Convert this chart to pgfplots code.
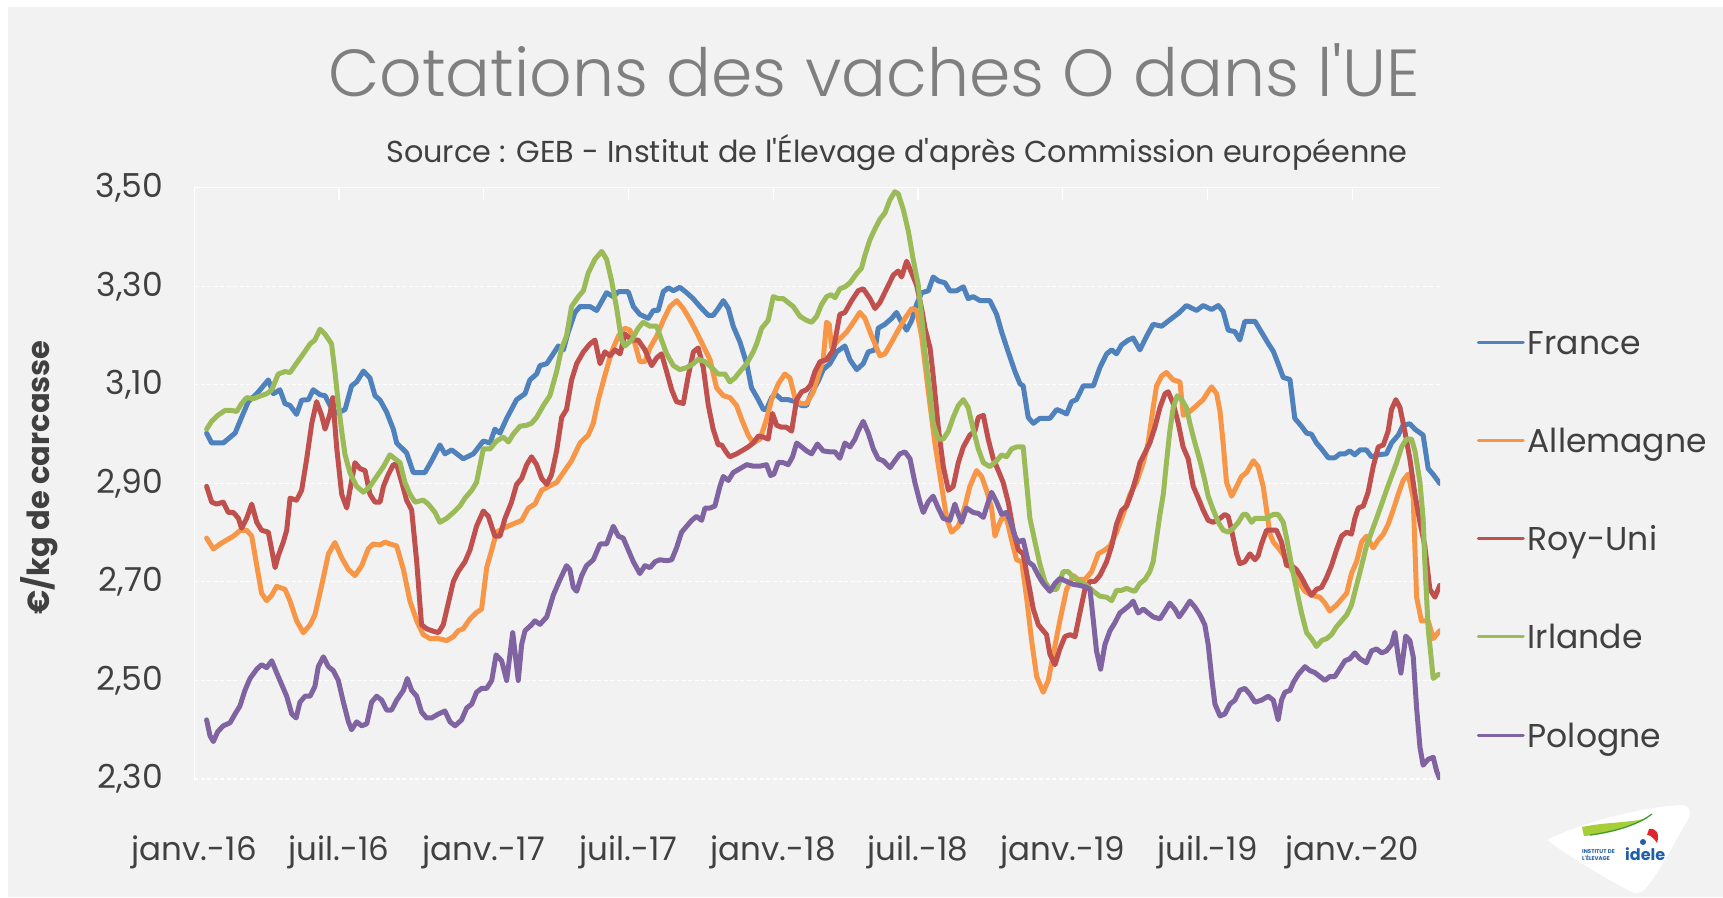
\documentclass[border=0pt]{standalone}
\usepackage{fontspec}
\usepackage{pgfplots}
\pgfplotsset{compat=1.18}
\usepackage{pgfplotstable}
\setmainfont{Poppins}[Ligatures=TeXOff]
\IfFontExistsTF{Poppins Light}{\newfontfamily\titlefont{Poppins Light}[Ligatures=TeXOff]}{\newfontfamily\titlefont{Poppins}[Ligatures=TeXOff]}
\definecolor{cFR}{HTML}{4F81BD}
\definecolor{cDE}{HTML}{F79646}
\definecolor{cUK}{HTML}{C0504D}
\definecolor{cIE}{HTML}{9BBB59}
\definecolor{cPL}{HTML}{8064A2}
\definecolor{bg}{HTML}{F2F2F2}
\definecolor{txt}{HTML}{404040}
\definecolor{ttl}{HTML}{7F7F7F}
\definecolor{logoblue}{HTML}{1F5FAA}
\definecolor{logolime}{HTML}{A6CE39}
\definecolor{logogreen}{HTML}{3A9A3A}
\definecolor{logored}{HTML}{E0262B}

\pgfplotstableread{
m v
0.51 3.002
0.72 2.982
1.20 2.982
1.69 3.002
1.96 3.034
2.24 3.066
2.59 3.082
3.07 3.110
3.28 3.082
3.55 3.090
3.76 3.062
3.97 3.058
4.24 3.040
4.45 3.069
4.73 3.070
4.93 3.090
5.21 3.080
5.42 3.078
5.63 3.058
5.90 3.042
6.25 3.050
6.52 3.098
6.73 3.106
7.01 3.128
7.28 3.114
7.49 3.078
7.70 3.069
7.97 3.045
8.25 3.010
8.39 2.982
8.80 2.962
9.08 2.922
9.56 2.922
9.84 2.946
10.18 2.978
10.39 2.960
10.67 2.968
11.15 2.950
11.57 2.960
11.98 2.986
12.26 2.982
12.46 3.010
12.67 3.002
12.95 3.032
13.36 3.070
13.71 3.082
13.91 3.110
14.19 3.122
14.33 3.139
14.61 3.143
14.88 3.163
15.09 3.179
15.30 3.171
15.50 3.207
15.78 3.247
15.99 3.259
16.40 3.259
16.68 3.251
17.09 3.287
17.37 3.279
17.58 3.289
17.99 3.289
18.20 3.259
18.47 3.243
18.82 3.235
19.03 3.251
19.23 3.251
19.44 3.289
19.65 3.297
19.86 3.291
20.13 3.298
20.41 3.287
20.68 3.275
20.96 3.259
21.31 3.241
21.51 3.241
21.72 3.255
21.93 3.271
22.14 3.255
22.34 3.219
22.62 3.187
22.90 3.143
23.10 3.094
23.38 3.070
23.59 3.050
23.72 3.050
23.93 3.074
24.07 3.082
24.35 3.070
24.62 3.070
24.90 3.066
25.18 3.058
25.38 3.058
25.55 3.080
25.85 3.106
26.07 3.131
26.35 3.143
26.63 3.167
26.97 3.179
27.18 3.151
27.46 3.131
27.73 3.143
27.94 3.167
28.22 3.171
28.35 3.215
28.63 3.223
28.91 3.235
29.11 3.247
29.32 3.227
29.53 3.211
29.74 3.231
29.94 3.263
30.15 3.287
30.43 3.291
30.63 3.319
30.84 3.311
31.12 3.307
31.32 3.291
31.60 3.291
31.88 3.299
32.08 3.275
32.29 3.279
32.57 3.271
32.98 3.271
33.26 3.243
33.47 3.207
33.74 3.167
34.02 3.127
34.23 3.102
34.36 3.098
34.57 3.034
34.78 3.022
35.05 3.032
35.47 3.032
35.75 3.050
35.95 3.046
36.16 3.041
36.37 3.066
36.57 3.070
36.85 3.098
37.27 3.098
37.54 3.135
37.82 3.163
38.03 3.171
38.23 3.163
38.44 3.181
38.72 3.191
38.92 3.195
39.20 3.171
39.48 3.199
39.75 3.223
40.10 3.219
40.44 3.232
40.79 3.245
41.13 3.261
41.55 3.251
41.82 3.261
42.17 3.253
42.45 3.261
42.65 3.249
42.86 3.211
43.14 3.208
43.34 3.191
43.55 3.229
43.97 3.229
44.24 3.207
44.52 3.184
44.73 3.168
44.93 3.143
45.14 3.115
45.42 3.111
45.62 3.032
45.90 3.016
46.11 3.002
46.31 3.000
46.52 2.982
46.73 2.970
47.01 2.952
47.28 2.952
47.49 2.960
47.70 2.960
47.90 2.966
48.11 2.958
48.32 2.968
48.59 2.968
48.80 2.954
49.08 2.958
49.42 2.960
49.63 2.982
49.91 2.998
50.11 3.018
50.39 3.021
50.60 3.010
50.94 2.998
51.15 2.930
51.36 2.918
51.63 2.900
}\tFR

\pgfplotstableread{
m v
0.51 2.789
0.79 2.767
1.07 2.777
1.34 2.785
1.62 2.793
1.89 2.804
2.17 2.805
2.38 2.793
2.59 2.733
2.79 2.677
3.00 2.662
3.21 2.673
3.41 2.691
3.76 2.685
3.97 2.661
4.24 2.621
4.52 2.597
4.80 2.613
5.00 2.633
5.28 2.693
5.56 2.757
5.83 2.780
6.11 2.749
6.39 2.725
6.66 2.713
6.94 2.733
7.21 2.767
7.42 2.777
7.70 2.775
7.91 2.781
8.11 2.777
8.39 2.773
8.67 2.725
8.94 2.661
9.22 2.621
9.49 2.593
9.77 2.585
10.12 2.585
10.46 2.581
10.74 2.589
10.94 2.601
11.15 2.605
11.43 2.625
11.70 2.638
11.91 2.645
12.12 2.729
12.33 2.765
12.53 2.801
12.81 2.809
13.09 2.815
13.57 2.825
13.85 2.850
14.12 2.858
14.40 2.886
14.74 2.895
15.02 2.902
15.30 2.922
15.64 2.946
15.99 2.982
16.33 2.998
16.54 3.022
16.75 3.070
17.02 3.119
17.30 3.167
17.58 3.199
17.85 3.215
18.06 3.211
18.27 3.183
18.47 3.147
18.68 3.147
18.89 3.175
19.17 3.199
19.44 3.231
19.72 3.259
20.00 3.271
20.27 3.255
20.55 3.232
20.82 3.207
21.10 3.179
21.38 3.151
21.65 3.094
21.93 3.078
22.21 3.074
22.48 3.058
22.69 3.030
22.96 2.998
23.17 2.982
23.45 2.990
23.72 3.030
23.93 3.070
24.21 3.102
24.48 3.122
24.69 3.114
24.90 3.074
25.11 3.062
25.38 3.062
25.66 3.086
25.87 3.119
26.07 3.151
26.21 3.227
26.32 3.223
26.42 3.175
26.70 3.191
27.04 3.207
27.32 3.227
27.59 3.247
27.80 3.235
28.08 3.199
28.42 3.159
28.63 3.163
28.91 3.187
29.18 3.211
29.46 3.235
29.74 3.255
29.94 3.251
30.15 3.199
30.43 3.086
30.70 2.982
30.98 2.894
31.19 2.829
31.39 2.801
31.67 2.813
31.95 2.854
32.15 2.894
32.43 2.926
32.64 2.914
32.84 2.886
33.05 2.850
33.19 2.793
33.33 2.813
33.47 2.829
33.67 2.829
33.88 2.785
34.09 2.745
34.30 2.741
34.50 2.669
34.71 2.581
34.92 2.508
35.19 2.476
35.40 2.500
35.61 2.553
35.88 2.621
36.16 2.685
36.44 2.713
36.64 2.705
36.92 2.705
37.20 2.721
37.47 2.757
37.75 2.765
37.96 2.773
38.23 2.801
38.51 2.838
38.79 2.878
39.06 2.902
39.34 2.942
39.54 2.982
39.75 3.054
39.89 3.098
40.10 3.118
40.30 3.125
40.58 3.110
40.86 3.106
41.00 3.038
41.27 3.046
41.55 3.058
41.82 3.070
42.03 3.086
42.17 3.096
42.38 3.082
42.52 3.046
42.65 2.982
42.79 2.902
43.00 2.874
43.21 2.894
43.41 2.914
43.62 2.922
43.90 2.946
44.10 2.934
44.31 2.894
44.45 2.846
44.59 2.797
44.73 2.781
45.00 2.765
45.28 2.745
45.49 2.725
45.76 2.701
46.04 2.681
46.31 2.673
46.66 2.669
46.87 2.657
47.07 2.641
47.35 2.653
47.56 2.665
47.77 2.677
47.97 2.717
48.18 2.741
48.39 2.781
48.59 2.793
48.87 2.769
49.08 2.785
49.29 2.797
49.49 2.817
49.70 2.846
49.91 2.878
50.11 2.906
50.32 2.919
50.53 2.870
50.67 2.669
50.87 2.621
51.15 2.621
51.36 2.585
51.56 2.597
51.63 2.601
}\tDE

\pgfplotstableread{
m v
0.51 2.894
0.72 2.862
0.93 2.858
1.20 2.862
1.41 2.841
1.62 2.841
1.83 2.829
1.96 2.809
2.17 2.829
2.38 2.858
2.59 2.821
2.79 2.805
3.07 2.801
3.21 2.765
3.35 2.729
3.48 2.753
3.69 2.781
3.83 2.805
3.97 2.870
4.24 2.866
4.45 2.886
4.66 2.950
4.87 3.022
5.07 3.066
5.28 3.038
5.42 3.010
5.63 3.042
5.74 3.074
5.90 2.974
6.11 2.878
6.32 2.850
6.45 2.886
6.66 2.942
6.87 2.930
7.08 2.926
7.28 2.878
7.49 2.862
7.70 2.862
7.84 2.894
8.04 2.918
8.25 2.938
8.39 2.938
8.60 2.902
8.80 2.866
9.01 2.846
9.22 2.741
9.42 2.613
9.63 2.605
9.84 2.601
10.12 2.597
10.32 2.613
10.53 2.657
10.74 2.701
10.94 2.721
11.22 2.741
11.43 2.765
11.70 2.813
11.98 2.844
12.19 2.833
12.46 2.793
12.67 2.793
12.88 2.829
13.15 2.862
13.36 2.898
13.57 2.910
13.78 2.938
13.98 2.954
14.19 2.938
14.40 2.910
14.61 2.898
14.81 2.918
15.02 2.966
15.23 3.034
15.43 3.050
15.64 3.110
15.85 3.143
16.13 3.167
16.40 3.183
16.61 3.191
16.82 3.143
17.02 3.167
17.23 3.159
17.44 3.171
17.65 3.163
17.85 3.203
18.13 3.191
18.40 3.191
18.68 3.171
18.96 3.139
19.17 3.155
19.37 3.163
19.58 3.127
19.79 3.090
19.99 3.066
20.27 3.062
20.48 3.119
20.69 3.167
20.89 3.175
21.10 3.135
21.31 3.058
21.51 3.010
21.72 2.978
21.86 2.978
22.07 2.962
22.20 2.954
22.48 2.960
22.76 2.968
22.96 2.974
23.17 2.982
23.38 2.996
23.59 2.994
23.79 2.990
23.97 3.042
24.14 3.018
24.35 3.014
24.55 3.014
24.76 3.006
24.97 3.070
25.18 3.086
25.38 3.090
25.55 3.100
25.73 3.127
25.94 3.147
26.21 3.151
26.49 3.171
26.76 3.243
26.97 3.247
27.25 3.271
27.52 3.291
27.73 3.295
28.01 3.275
28.22 3.255
28.42 3.267
28.70 3.295
28.98 3.323
29.18 3.331
29.32 3.319
29.53 3.351
29.67 3.335
29.94 3.303
30.15 3.255
30.29 3.215
30.50 3.175
30.63 3.119
30.84 3.014
31.05 2.934
31.26 2.886
31.46 2.894
31.67 2.942
31.88 2.974
32.15 2.998
32.36 3.006
32.50 3.034
32.71 3.038
32.91 2.990
33.12 2.950
33.33 2.926
33.53 2.902
33.74 2.862
33.95 2.805
34.16 2.765
34.36 2.757
34.57 2.701
34.78 2.645
34.99 2.613
35.19 2.601
35.33 2.593
35.47 2.553
35.68 2.532
35.88 2.564
36.09 2.589
36.30 2.593
36.51 2.589
36.71 2.637
36.92 2.685
37.13 2.701
37.33 2.701
37.54 2.713
37.82 2.741
38.03 2.773
38.23 2.817
38.44 2.845
38.65 2.854
38.85 2.880
39.06 2.915
39.20 2.942
39.41 2.962
39.61 2.982
39.82 3.014
40.03 3.054
40.24 3.082
40.37 3.086
40.58 3.062
40.79 3.022
40.99 2.974
41.20 2.950
41.41 2.894
41.62 2.870
41.82 2.846
42.03 2.825
42.24 2.821
42.52 2.829
42.72 2.837
42.86 2.833
43.00 2.805
43.21 2.757
43.34 2.737
43.55 2.741
43.76 2.757
43.97 2.745
44.10 2.753
44.24 2.777
44.45 2.805
44.66 2.805
44.86 2.805
45.07 2.781
45.28 2.733
45.49 2.733
45.69 2.725
45.90 2.709
46.11 2.689
46.31 2.673
46.52 2.685
46.73 2.689
46.94 2.709
47.14 2.733
47.35 2.765
47.56 2.793
47.77 2.801
47.97 2.797
48.11 2.829
48.25 2.850
48.46 2.854
48.66 2.882
48.87 2.934
49.08 2.974
49.29 2.978
49.49 3.006
49.63 3.050
49.81 3.070
49.98 3.054
50.18 3.006
50.39 2.950
50.60 2.878
50.81 2.821
51.01 2.773
51.22 2.685
51.43 2.669
51.63 2.693
}\tUK

\pgfplotstableread{
m v
0.51 3.010
0.72 3.026
0.97 3.038
1.27 3.048
1.55 3.048
1.76 3.046
1.96 3.062
2.17 3.074
2.45 3.072
2.72 3.077
3.00 3.082
3.21 3.090
3.48 3.122
3.76 3.127
3.97 3.125
4.24 3.144
4.52 3.163
4.80 3.183
5.00 3.191
5.21 3.213
5.42 3.203
5.69 3.183
5.83 3.127
5.97 3.062
6.11 3.006
6.25 2.958
6.45 2.922
6.73 2.894
7.01 2.882
7.28 2.894
7.56 2.914
7.84 2.934
8.11 2.958
8.32 2.950
8.53 2.942
8.73 2.902
8.94 2.878
9.15 2.862
9.49 2.866
9.70 2.858
9.98 2.841
10.18 2.821
10.46 2.829
10.74 2.841
11.01 2.854
11.22 2.870
11.50 2.886
11.70 2.902
11.98 2.970
12.26 2.970
12.53 2.986
12.81 2.994
13.02 2.984
13.22 3.000
13.50 3.016
13.78 3.018
13.98 3.022
14.19 3.034
14.47 3.058
14.74 3.078
15.02 3.127
15.23 3.175
15.43 3.199
15.64 3.259
15.92 3.279
16.13 3.291
16.33 3.327
16.61 3.355
16.89 3.371
17.09 3.355
17.30 3.311
17.51 3.255
17.71 3.191
17.85 3.179
18.13 3.191
18.40 3.215
18.61 3.227
18.89 3.219
19.17 3.219
19.37 3.191
19.58 3.163
19.86 3.139
20.13 3.131
20.41 3.135
20.69 3.143
20.89 3.152
21.17 3.147
21.45 3.135
21.72 3.122
22.00 3.122
22.20 3.106
22.41 3.114
22.69 3.131
22.90 3.143
23.17 3.167
23.31 3.183
23.52 3.215
23.79 3.231
24.00 3.279
24.21 3.275
24.42 3.275
24.62 3.267
24.83 3.259
25.11 3.239
25.38 3.231
25.59 3.227
25.80 3.239
26.00 3.263
26.21 3.279
26.40 3.283
26.56 3.277
26.76 3.295
26.97 3.299
27.18 3.307
27.46 3.326
27.66 3.337
27.80 3.363
28.01 3.395
28.22 3.417
28.42 3.436
28.63 3.449
28.84 3.476
29.04 3.492
29.18 3.488
29.39 3.456
29.60 3.412
29.80 3.355
30.01 3.303
30.15 3.239
30.29 3.167
30.50 3.086
30.63 3.022
30.84 2.990
31.05 2.990
31.26 3.006
31.46 3.034
31.67 3.058
31.88 3.070
32.08 3.054
32.29 3.010
32.50 2.970
32.71 2.942
32.98 2.934
33.26 2.946
33.47 2.958
33.67 2.954
33.88 2.970
34.09 2.974
34.36 2.974
34.50 2.902
34.64 2.829
34.85 2.781
35.05 2.737
35.26 2.701
35.47 2.685
35.75 2.685
36.02 2.721
36.23 2.721
36.44 2.709
36.71 2.701
36.99 2.693
37.27 2.681
37.54 2.671
37.82 2.669
38.03 2.662
38.23 2.683
38.44 2.683
38.65 2.687
38.85 2.683
38.99 2.681
39.20 2.697
39.41 2.705
39.61 2.721
39.75 2.741
39.89 2.789
40.03 2.837
40.17 2.878
40.30 2.942
40.44 3.006
40.58 3.054
40.75 3.078
40.93 3.070
41.13 3.054
41.27 3.022
41.48 2.982
41.69 2.946
41.89 2.906
42.03 2.874
42.24 2.846
42.45 2.821
42.65 2.805
42.86 2.801
43.07 2.809
43.28 2.821
43.48 2.837
43.62 2.837
43.83 2.821
43.97 2.829
44.17 2.829
44.45 2.829
44.73 2.837
44.93 2.837
45.14 2.821
45.28 2.789
45.49 2.733
45.69 2.685
45.90 2.637
46.11 2.597
46.31 2.585
46.52 2.569
46.73 2.581
46.94 2.585
47.14 2.593
47.35 2.609
47.56 2.621
47.77 2.633
47.97 2.653
48.18 2.693
48.39 2.733
48.59 2.773
48.80 2.801
49.01 2.829
49.22 2.858
49.42 2.886
49.63 2.914
49.84 2.942
50.05 2.974
50.25 2.990
50.46 2.990
50.60 2.966
50.81 2.902
50.94 2.829
51.01 2.741
51.15 2.605
51.36 2.504
51.56 2.512
51.63 2.512
}\tIE

\pgfplotstableread{
m v
0.51 2.420
0.65 2.388
0.79 2.376
0.97 2.396
1.20 2.408
1.48 2.414
1.69 2.432
1.89 2.448
2.10 2.480
2.31 2.504
2.59 2.523
2.79 2.532
3.00 2.526
3.21 2.540
3.41 2.516
3.62 2.492
3.83 2.468
4.04 2.432
4.22 2.424
4.38 2.456
4.59 2.468
4.80 2.468
5.00 2.488
5.14 2.528
5.35 2.548
5.56 2.528
5.76 2.520
5.97 2.500
6.18 2.456
6.39 2.416
6.52 2.400
6.73 2.416
6.94 2.408
7.15 2.412
7.35 2.456
7.56 2.468
7.77 2.460
7.97 2.440
8.18 2.440
8.39 2.460
8.67 2.480
8.83 2.504
9.01 2.480
9.22 2.468
9.42 2.436
9.63 2.424
9.84 2.424
10.12 2.432
10.39 2.438
10.60 2.416
10.81 2.408
11.08 2.420
11.29 2.444
11.50 2.452
11.70 2.476
11.91 2.484
12.12 2.484
12.33 2.500
12.51 2.552
12.74 2.540
12.95 2.500
13.20 2.597
13.43 2.500
13.57 2.573
13.71 2.601
13.98 2.613
14.12 2.621
14.33 2.614
14.61 2.629
14.88 2.673
15.16 2.705
15.43 2.733
15.57 2.725
15.71 2.689
15.85 2.681
16.06 2.713
16.26 2.733
16.54 2.745
16.82 2.777
17.09 2.777
17.37 2.813
17.58 2.793
17.78 2.789
17.99 2.765
18.20 2.741
18.47 2.717
18.68 2.733
18.89 2.729
19.10 2.741
19.30 2.745
19.58 2.743
19.79 2.745
19.99 2.769
20.20 2.801
20.41 2.813
20.62 2.825
20.82 2.833
21.03 2.825
21.17 2.850
21.38 2.850
21.58 2.854
21.79 2.894
21.93 2.914
22.14 2.906
22.34 2.922
22.62 2.930
22.90 2.938
23.17 2.935
23.45 2.935
23.72 2.938
23.89 2.916
24.03 2.919
24.21 2.943
24.42 2.942
24.62 2.938
24.80 2.954
24.97 2.982
25.18 2.974
25.38 2.966
25.59 2.960
25.83 2.980
26.07 2.966
26.35 2.964
26.56 2.964
26.76 2.951
26.97 2.982
27.18 2.974
27.39 2.990
27.52 3.006
27.73 3.026
27.94 3.002
28.15 2.970
28.35 2.950
28.56 2.946
28.84 2.932
29.04 2.946
29.25 2.960
29.46 2.964
29.67 2.950
29.87 2.902
30.08 2.862
30.22 2.841
30.43 2.863
30.63 2.874
30.84 2.850
31.05 2.829
31.32 2.825
31.53 2.858
31.67 2.837
31.81 2.821
32.01 2.850
32.29 2.841
32.50 2.839
32.71 2.831
32.91 2.862
33.05 2.882
33.26 2.862
33.47 2.837
33.67 2.841
33.81 2.825
34.02 2.793
34.16 2.781
34.36 2.785
34.57 2.741
34.78 2.733
34.99 2.713
35.19 2.697
35.47 2.681
35.68 2.697
35.88 2.707
36.16 2.701
36.44 2.695
36.71 2.693
36.99 2.689
37.13 2.685
37.27 2.621
37.40 2.560
37.57 2.523
37.75 2.573
37.96 2.601
38.16 2.617
38.37 2.637
38.58 2.645
38.78 2.653
38.92 2.661
39.13 2.637
39.34 2.645
39.54 2.637
39.75 2.629
40.03 2.625
40.24 2.641
40.44 2.657
40.65 2.645
40.83 2.629
41.06 2.645
41.27 2.661
41.48 2.649
41.69 2.633
41.89 2.613
42.03 2.573
42.17 2.508
42.31 2.452
42.52 2.428
42.72 2.432
42.93 2.452
43.14 2.460
43.34 2.480
43.55 2.484
43.76 2.472
43.97 2.456
44.24 2.460
44.52 2.468
44.73 2.460
44.93 2.420
45.07 2.460
45.21 2.476
45.42 2.480
45.56 2.496
45.76 2.512
46.04 2.528
46.25 2.520
46.45 2.516
46.66 2.508
46.87 2.500
47.07 2.508
47.28 2.508
47.49 2.524
47.70 2.540
47.90 2.544
48.11 2.556
48.32 2.544
48.59 2.536
48.80 2.560
49.01 2.564
49.22 2.556
49.42 2.560
49.63 2.573
49.77 2.598
49.91 2.548
50.02 2.515
50.11 2.548
50.22 2.590
50.39 2.581
50.53 2.548
50.67 2.444
50.81 2.364
50.94 2.328
51.15 2.340
51.36 2.344
51.50 2.316
51.63 2.300
}\tPL

\begin{document}
\begin{tikzpicture}[x=1pt,y=1pt]
\useasboundingbox (0,0) rectangle (1723,897);
\fill[white] (0,0) rectangle (1723,897);
\fill[bg] (8,0) rectangle (1723,890);

\node[anchor=base, font=\titlefont\fontsize{66.5}{66.5}\selectfont, text=ttl, inner sep=0pt]
  at (874,800.3) {Cotations des vaches O dans l'UE};
\node[anchor=base, font=\fontsize{30.3}{30.3}\selectfont, text=txt, inner sep=0pt]
  at (897,734.7) {Source : GEB - Institut de l'Élevage d'après Commission européenne};

\begin{axis}[
  at={(194.3pt,118pt)}, anchor=south west,
  scale only axis, width=1245.7pt, height=591.2pt,
  xmin=0, xmax=51.64, ymin=2.3, ymax=3.5,
  axis x line*=top, axis y line*=left,
  axis line style={white, line width=1.2pt},
  xtick={0,6,12,18,24,30,36,42,48},
  xticklabels={janv.-16,juil.-16,janv.-17,juil.-17,janv.-18,juil.-18,janv.-19,juil.-19,janv.-20},
  tick align=inside, major tick length=12pt,
  xtick style={white, line width=1.2pt},
  ytick={2.3,2.5,2.7,2.9,3.1,3.3,3.5},
  ytick style={draw=none},
  ymajorgrids, major grid style={white, line width=1.1pt, dash pattern=on 4pt off 2.5pt},
  xticklabel style={font=\fontsize{32.5}{32.5}\selectfont, text=txt, anchor=base, inner sep=0pt, yshift=-672.2pt},
  yticklabel style={font=\fontsize{33}{33}\selectfont, text=txt, anchor=east, inner sep=0pt, xshift=-31pt,
    /pgf/number format/.cd, fixed, fixed zerofill, precision=2, use comma, assume math mode=true},
  ylabel={€/kg de carcasse},
  ylabel style={font=\bfseries\fontsize{30.5}{30.5}\selectfont, text=txt, at={(axis description cs:-0.1243,0.510)}, anchor=center},
  every axis plot/.append style={line width=5pt, line join=round, line cap=round},
  legend cell align=left,
  legend image code/.code={\draw[#1, line width=3pt, line cap=round] (0pt,0pt) -- (45pt,0pt);},
  legend style={at={(axis description cs:1.0295,0.759)}, anchor=north west, draw=none, fill=none,
    inner sep=0pt, outer sep=0pt, row sep=74.2pt, column sep=3pt,
    nodes={inner sep=0pt, text height=24pt, text depth=0pt, anchor=west, text=txt, font=\fontsize{33}{33}\selectfont}},
]
\addplot[cFR] table[x=m,y=v] {\tFR};
\addlegendentry{France}
\addplot[cDE] table[x=m,y=v] {\tDE};
\addlegendentry{Allemagne}
\addplot[cUK] table[x=m,y=v] {\tUK};
\addlegendentry{Roy-Uni}
\addplot[cIE] table[x=m,y=v] {\tIE};
\addlegendentry{Irlande}
\addplot[cPL] table[x=m,y=v] {\tPL};
\addlegendentry{Pologne}
\end{axis}

% logo
\fill[white] (1547,57) .. controls (1585,76) and (1645,90) .. (1680,92)
  .. controls (1692,92) and (1691,82) .. (1687,76)
  .. controls (1672,50) and (1658,22) .. (1644,7)
  .. controls (1638,2) and (1632,4) .. (1626,8)
  .. controls (1600,22) and (1570,40) .. (1547,57) -- cycle;
\fill[logolime] (1582,70) .. controls (1605,75) and (1630,74) .. (1648,79)
  .. controls (1628,68) and (1602,62) .. (1584,61) -- cycle;
\draw[logogreen, line width=1.2pt] (1590,62) .. controls (1620,66) and (1640,74) .. (1652,83);
\fill[logored] (1649,68) .. controls (1656,69) and (1660,64) .. (1657,54)
  .. controls (1653,60) and (1650,62) .. (1647,62) -- cycle;
\fill[logoblue] (1643,55) circle (3pt);
\node[anchor=base west, inner sep=0pt, font=\bfseries\fontsize{16}{16}\selectfont, text=logoblue] at (1625,37) {idele};
\node[anchor=base west, inner sep=0pt, font=\bfseries\fontsize{5.5}{5.5}\selectfont, text=logoblue] at (1582,43.5) {INSTITUT DE};
\node[anchor=base west, inner sep=0pt, font=\bfseries\fontsize{5.5}{5.5}\selectfont, text=logoblue] at (1582,37) {L'ÉLEVAGE};
\end{tikzpicture}
\end{document}
